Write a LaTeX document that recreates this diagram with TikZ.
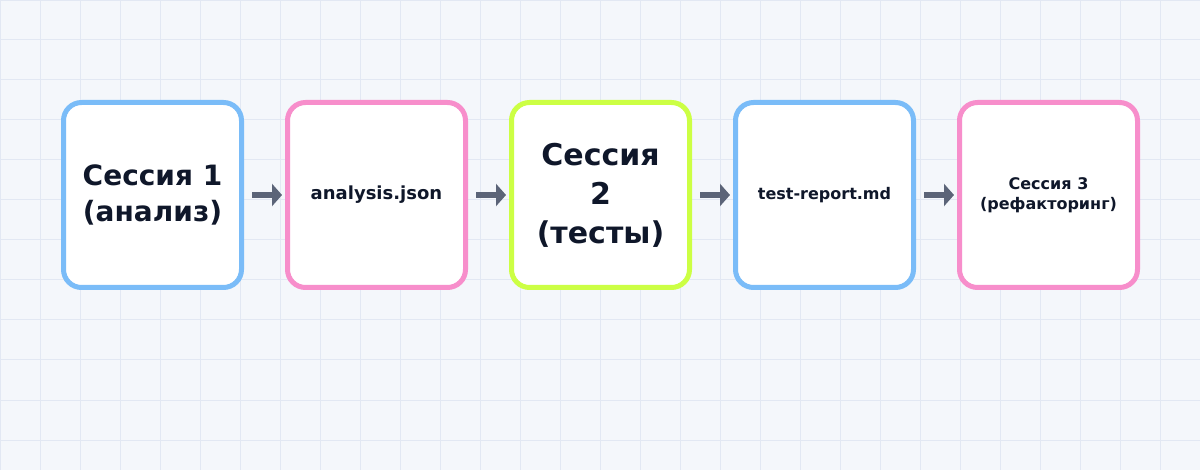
\documentclass[tikz,border=0pt]{standalone}
\usepackage{fontspec}
\setmainfont{DejaVu Sans}
\usetikzlibrary{shapes, arrows.meta}
\definecolor{paper}{HTML}{F4F7FB}
\definecolor{gridline}{HTML}{E2E8F3}
\definecolor{ink}{HTML}{0F172A}
\definecolor{slate}{HTML}{5B6478}
\definecolor{skyblue}{HTML}{7ABCF8}
\definecolor{rosepink}{HTML}{F78ECB}
\definecolor{limegreen}{HTML}{CCFF44}
\tikzstyle{card} = [rectangle, rounded corners=18pt, minimum width=178pt, minimum height=185pt, text centered, align=center, line width=5pt, fill=white, text=ink, inner sep=0pt]
\tikzstyle{bluecard} = [card, draw=skyblue]
\tikzstyle{pinkcard} = [card, draw=rosepink]
\tikzstyle{limecard} = [card, draw=limegreen]
\tikzstyle{edge} = [line width=6pt, draw=slate, -{Triangle[length=10pt, width=22pt]}, shorten <=8pt, shorten >=3pt]

\begin{document}
\begin{tikzpicture}[x=1pt, y=-1pt, node distance=224pt]

\useasboundingbox (0,0) rectangle (1200,470);
\fill [paper] (0,0) rectangle (1200,470);
\draw [gridline, line width=1pt, step=40pt] (0,0) grid (1200,470);

\node (1) [bluecard, font=\bfseries\fontsize{28}{36}\selectfont] at (152.5,195) {Сессия 1\\(анализ)};
\node (2) [pinkcard, right of=1, font=\bfseries\fontsize{18}{22}\selectfont] {analysis.json};
\node (3) [limecard, right of=2, font=\bfseries\fontsize{30}{39}\selectfont] {Сессия\\2\\(тесты)};
\node (4) [bluecard, right of=3, font=\bfseries\fontsize{16}{20}\selectfont] {test-report.md};
\node (5) [pinkcard, right of=4, font=\bfseries\fontsize{16}{19.5}\selectfont] {Сессия 3\\(рефакторинг)};

\draw [edge] (1) -- (2);
\draw [edge] (2) -- (3);
\draw [edge] (3) -- (4);
\draw [edge] (4) -- (5);

\end{tikzpicture}
\end{document}
